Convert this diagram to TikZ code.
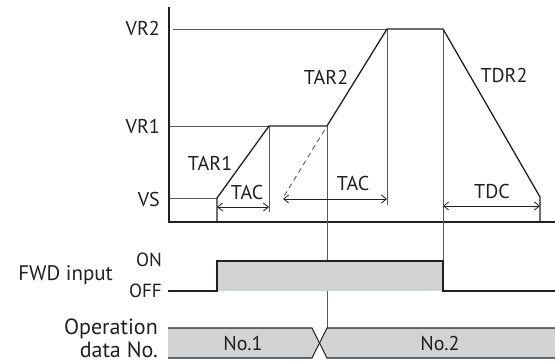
\documentclass[tikz,border=0pt]{standalone}
\usepackage{fontspec}
\setmainfont{PT Sans}
\usetikzlibrary{arrows.meta}
\definecolor{ink}{HTML}{231F20}
\definecolor{thinc}{HTML}{58595B}
\definecolor{barfill}{HTML}{D1D3D4}
\begin{document}
\begin{tikzpicture}[x=1pt,y=-1pt,
  lbl/.style={font=\fontsize{20}{22}\selectfont, text=ink, inner sep=0pt},
  prof/.style={draw=ink, line width=1.3pt, line join=miter},
  thinline/.style={draw=thinc, line width=0.9pt},
  dimline/.style={draw=ink, line width=0.8pt, {Straight Barb[length=5pt,width=8pt]}-{Straight Barb[length=5pt,width=8pt]}},
  sig/.style={draw=ink, line width=1.1pt, line join=miter},
  barst/.style={fill=barfill, draw=none}]
\useasboundingbox (0,0) rectangle (555,364);
% axes
\coordinate (axtop) at (169,7);
\coordinate (axorg) at (169,222);
\coordinate (axend) at (555,222);
\draw[prof, line width=1.1pt] (axtop) -- (axorg) -- (axend);
% profile points
\coordinate (p0) at (217,222);
\coordinate (p1) at (217,198);
\coordinate (p2) at (269,126);
\coordinate (p3) at (327,126);
\coordinate (p4) at (387,29);
\coordinate (p5) at (443,29);
\coordinate (p6) at (540,197);
\coordinate (p7) at (540,222);
% reference levels
\coordinate (vsL) at (169,198);
\coordinate (vr1L) at (169,126);
\coordinate (vr2L) at (173,29);
\draw[thinline] (vsL) -- (p1);
\draw[thinline] (vr1L) -- (p2);
\draw[thinline] (vr2L) -- (p4);
% verticals
\coordinate (v2b) at (269,212);
\coordinate (v3b) at (327,328);
\coordinate (v4b) at (387,205);
\coordinate (v5b) at (443,261);
\draw[thinline] (p2) -- (v2b);
\draw[thinline] (p3) -- (v3b);
\draw[thinline] (p4) -- (v4b);
\draw[thinline] (p5) -- (v5b);
% profile
\draw[prof] (p0) -- (p1) -- (p2) -- (p3) -- (p4) -- (p5) -- (p6) -- (p7);
% dashed extension
\coordinate (d0) at (324.5,130);
\coordinate (d1) at (283,198);
\draw[thinline, dashed, dash pattern=on 5pt off 4pt] (d0) -- (d1);
% dimension arrows
\coordinate (a1l) at (217,207);
\coordinate (a1r) at (269,207);
\coordinate (a2l) at (283,199);
\coordinate (a2r) at (387,199);
\coordinate (a3l) at (443,206);
\coordinate (a3r) at (540,206);
\draw[dimline] (a1l) -- (a1r);
\draw[dimline] (a2l) -- (a2r);
\draw[dimline] (a3l) -- (a3r);
% labels upper
\node[lbl, anchor=east] (lvr2) at (160,28) {VR2};
\node[lbl, anchor=east] (lvr1) at (160,126) {VR1};
\node[lbl, anchor=east] (lvs) at (160,199) {VS};
\node[lbl] (ltar1) at (210,163) {TAR1};
\node[lbl] (ltac1) at (247,192) {TAC};
\node[lbl] (ltar2) at (326,77) {TAR2};
\node[lbl] (ltac2) at (353,183) {TAC};
\node[lbl] (ltdr2) at (504,75) {TDR2};
\node[lbl] (ltdc) at (492,191) {TDC};
% FWD input
\fill[barst] (217,261) rectangle (443,291);
\coordinate (f0) at (168,291);
\coordinate (f1) at (217,291);
\coordinate (f2) at (217,261);
\coordinate (f3) at (443,261);
\coordinate (f4) at (443,291);
\coordinate (f5) at (555,291);
\draw[sig] (f0) -- (f1) -- (f2) -- (f3) -- (f4) -- (f5);
\node[lbl, anchor=east, font=\fontsize{21}{23}\selectfont] (lfwd) at (113,275) {FWD input};
\node[lbl, anchor=east, font=\fontsize{19}{21}\selectfont] (lon) at (162,260) {ON};
\node[lbl, anchor=east, font=\fontsize{19}{21}\selectfont] (loff) at (162,291) {OFF};
% operation data
\coordinate (o1tl) at (168,328);
\coordinate (o1bl) at (168,358);
\coordinate (xtl) at (312,328);
\coordinate (xbl) at (312,358);
\coordinate (xm) at (319.5,343);
\coordinate (xtr) at (327,328);
\coordinate (xbr) at (327,358);
\coordinate (o2tr) at (555,328);
\coordinate (o2br) at (555,358);
\fill[barst] (o1tl) -- (xtl) -- (xm) -- (xbl) -- (o1bl) -- cycle;
\fill[barst] (xtr) -- (o2tr) -- (o2br) -- (xbr) -- (xm) -- cycle;
\draw[sig] (o1tl) -- (xtl) -- (xbr) -- (o2br);
\draw[sig] (o1bl) -- (xbl) -- (xtr) -- (o2tr);
\node[lbl] (lno1) at (243,343) {No.1};
\node[lbl] (lno2) at (440,343) {No.2};
\node[lbl, anchor=base east, font=\fontsize{22}{24}\selectfont] (lop) at (158,334) {Operation};
\node[lbl, anchor=base east, font=\fontsize{22}{24}\selectfont] (ldata) at (158,357.5) {data No.};
\end{tikzpicture}
\end{document}
